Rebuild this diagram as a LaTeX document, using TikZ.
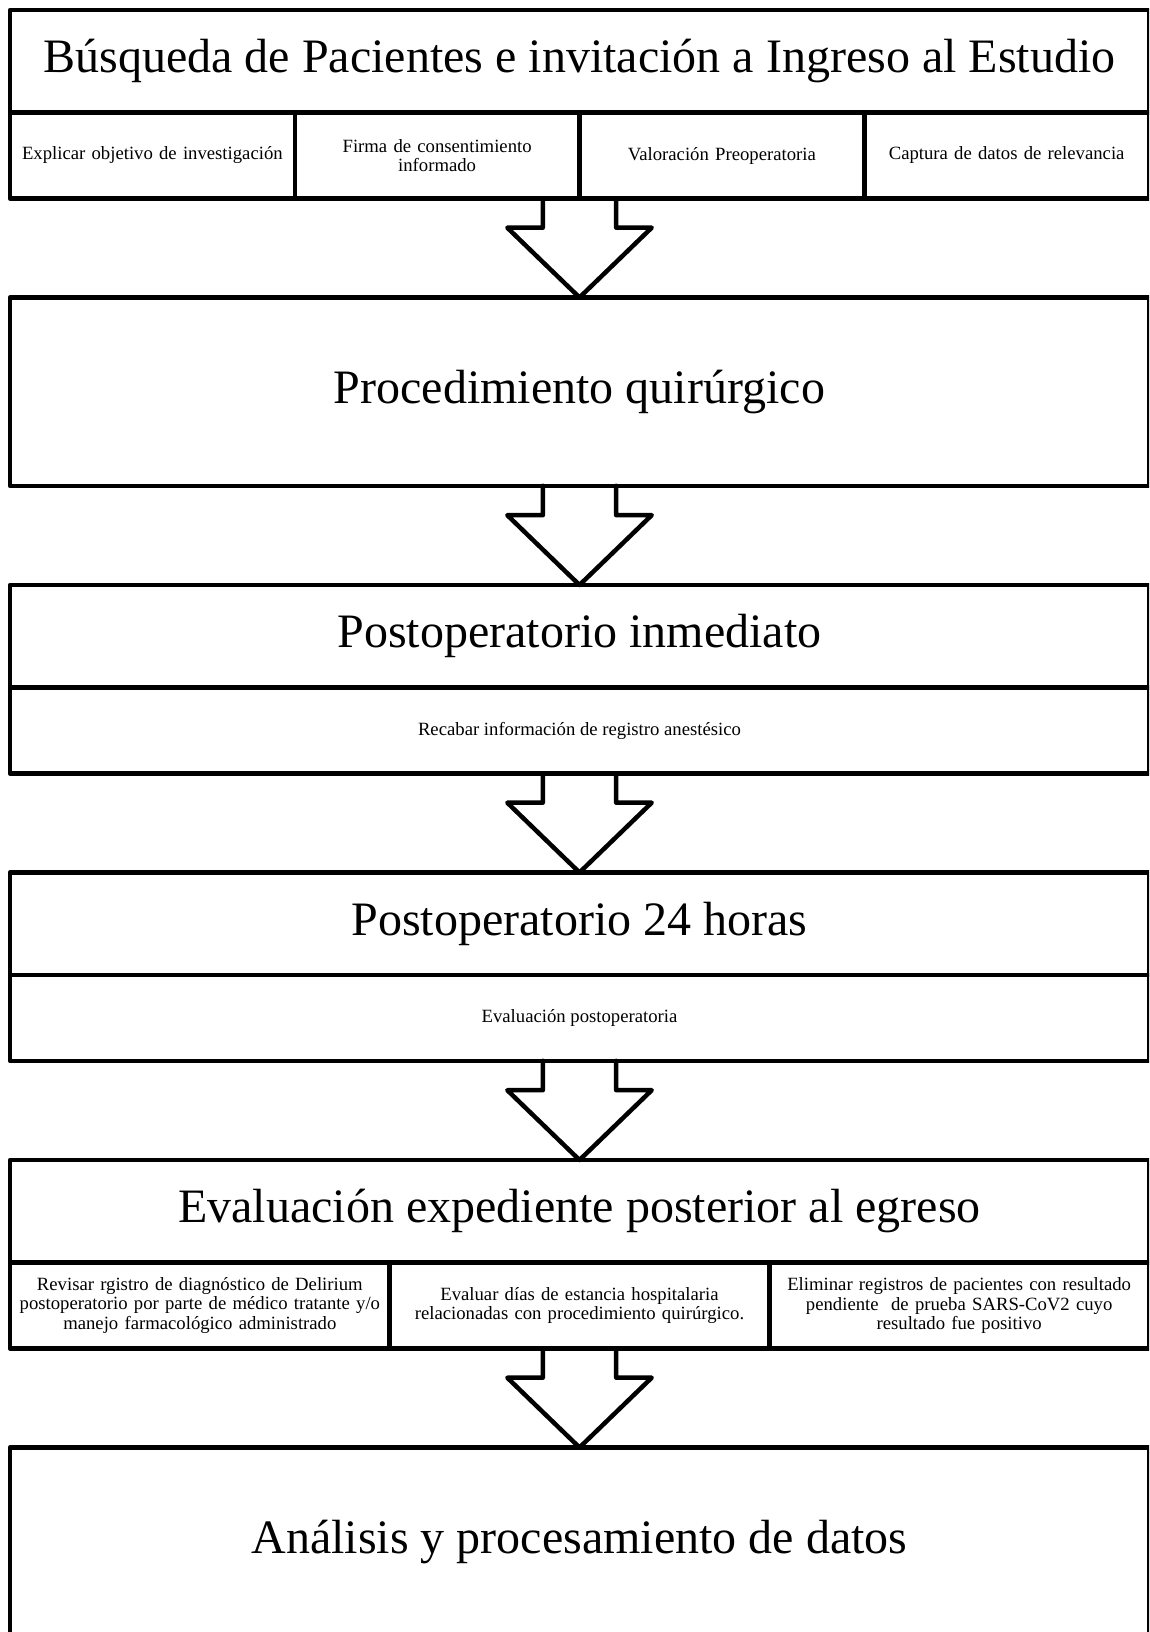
\documentclass[tikz,border=0pt]{standalone}
\usepackage{fontspec}
\setmainfont{Liberation Serif}
\usetikzlibrary{calc}
\newcommand\flowarrow[2]{%
  \draw[flow] ($(#1)+(-36.7,0)$) -- ($(#1)+(-36.7,29.4)$) -- ($(#1)+(-72.2,29.4)$)
    -- (#2) -- ($(#1)+(72.2,29.4)$) -- ($(#1)+(36.7,29.4)$) -- ($(#1)+(36.7,0)$);}
\begin{document}
\begin{tikzpicture}[x=1pt,y=-1pt,
  box/.style={draw, line width=4.5pt, rectangle, outer sep=0pt, inner sep=2pt,
    align=center, anchor=north west, line join=round},
  bigtxt/.style={font=\fontsize{48}{52}\selectfont},
  smalltxt/.style={font=\fontsize{18.7}{19.5}\selectfont},
  titlerow/.style={box, bigtxt, minimum width=1139pt, minimum height=102.7pt},
  fullbox/.style={box, bigtxt, minimum width=1139pt, minimum height=188.3pt},
  subrow/.style={box, smalltxt, minimum height=85.6pt},
  flow/.style={draw, line width=4.5pt, line join=round, line cap=round}]
\clip (0,0) rectangle (1149,1632);
\fill[white] (0,0) rectangle (1149,1632);
% Box 1
\node[titlerow] (t1) at (10,10) {Búsqueda de Pacientes e invitación a Ingreso al Estudio};
\node[subrow, minimum width=284.75pt, text width=276pt] (c11) at (10,112.7) {Explicar objetivo de investigación};
\node[subrow, minimum width=284.75pt, text width=276pt] (c12) at (294.75,112.7) {Firma de consentimiento\\informado};
\node[subrow, minimum width=284.75pt, text width=276pt] (c13) at (579.5,112.7) {Valoración Preoperatoria};
\node[subrow, minimum width=284.75pt, text width=276pt] (c14) at (864.25,112.7) {Captura de datos de relevancia};
% Box 2
\node[fullbox] (b2) at (10,297.5) {Procedimiento quirúrgico};
% Box 3
\node[titlerow] (t3) at (10,585) {Postoperatorio inmediato};
\node[subrow, minimum width=1139pt] (s3) at (10,687.7) {Recabar información de registro anestésico};
% Box 4
\node[titlerow] (t4) at (10,872.5) {Postoperatorio 24 horas};
\node[subrow, minimum width=1139pt] (s4) at (10,975.2) {Evaluación postoperatoria};
% Box 5
\node[titlerow] (t5) at (10,1160) {Evaluación expediente posterior al egreso};
\node[subrow, minimum width=379.67pt, text width=372pt] (c51) at (10,1262.7) {Revisar rgistro de diagnóstico de Delirium\\postoperatorio por parte de médico tratante y/o\\manejo farmacológico administrado};
\node[subrow, minimum width=379.67pt, text width=372pt] (c52) at (389.67,1262.7) {Evaluar días de estancia hospitalaria\\relacionadas con procedimiento quirúrgico.};
\node[subrow, minimum width=379.67pt, text width=372pt] (c53) at (769.33,1262.7) {Eliminar registros de pacientes con resultado\\pendiente \ de prueba SARS-CoV2 cuyo\\resultado fue positivo};
% Box 6
\node[fullbox] (b6) at (10,1447.5) {Análisis y procesamiento de datos};
% Arrows
\flowarrow{c12.south east}{b2.north}
\flowarrow{b2.south}{t3.north}
\flowarrow{s3.south}{t4.north}
\flowarrow{s4.south}{t5.north}
\flowarrow{c52.south}{b6.north}
\end{tikzpicture}
\end{document}
